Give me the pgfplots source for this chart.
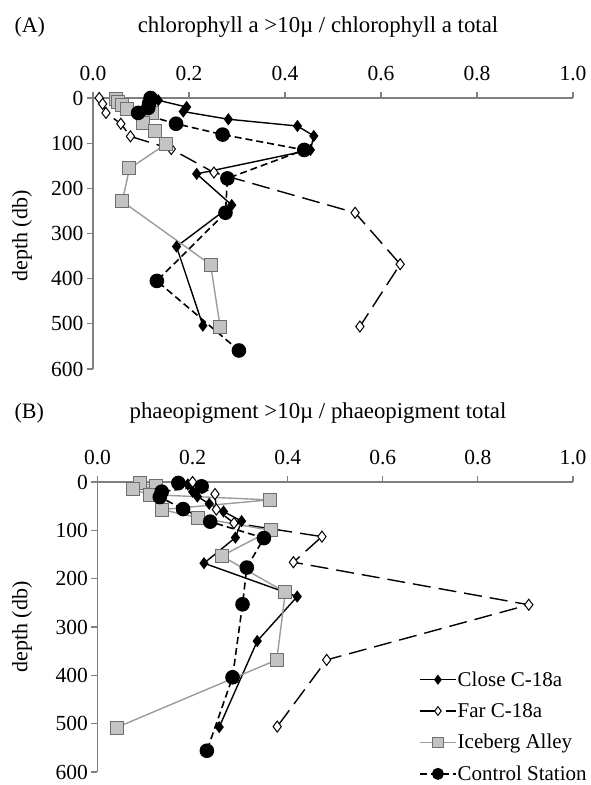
\documentclass[border=0pt]{standalone}
\usepackage{fontspec}
\setmainfont{Liberation Serif}
\usepackage{pgfplots}
\pgfplotsset{compat=1.18}
\definecolor{axgray}{RGB}{128,128,128}
\definecolor{icegray}{RGB}{155,155,155}
\definecolor{icefill}{RGB}{195,195,195}
\definecolor{iceedge}{RGB}{110,110,110}
\pgfplotsset{
  myaxis/.style={
    scale only axis,
    y dir=reverse,
    xmin=0, xmax=1, ymin=0, ymax=600,
    axis x line=top, axis y line=left,
    axis line style={-, draw=axgray, line width=1.1pt},
    tick style={draw=axgray, line width=1.1pt},
    tick align=outside,
    major tick length=6pt,
    xtick={0,0.2,0.4,0.6,0.8,1.0},
    ytick={0,100,200,300,400,500,600},
    tick label style={font=\fontsize{21.5}{24}\selectfont, /pgf/number format/assume math mode=true},
    xticklabel style={yshift=8pt, /pgf/number format/.cd, fixed, fixed zerofill, precision=1},
    clip=false,
  },
  closeS/.style={black, line width=1.4pt, mark=diamond*, mark size=5pt, mark options={solid, fill=black}},
  farS/.style={black, line width=1.4pt, dash pattern=on 18pt off 8pt, mark=diamond*, mark size=5.5pt, mark options={solid, fill=white, line width=1pt}},
  iceS/.style={icegray, line width=1.4pt, mark=square*, mark size=6.5pt, mark options={solid, fill=icefill, draw=iceedge, line width=1pt}},
  ctrlS/.style={black, line width=1.6pt, dash pattern=on 7pt off 4pt, mark=*, mark size=6.5pt, mark options={solid, fill=black}},
}
\begin{document}
\begin{tikzpicture}
\useasboundingbox (0pt,0pt) rectangle (590pt,-785pt);
% ---------- panel A
\node[anchor=west, font=\fontsize{22}{25}\selectfont] at (11pt,-27pt) {(A)};
\node[font=\fontsize{22.8}{25}\selectfont] at (318pt,-27pt) {chlorophyll a \textgreater10µ / chlorophyll a total};
\node[rotate=90, font=\fontsize{22}{25}\selectfont] at (22pt,-236pt) {depth (db)};
\begin{axis}[myaxis, at={(93pt,-98pt)}, anchor=north west, width=480pt, height=271pt]
\addplot[closeS] coordinates {(0.136,5) (0.195,20) (0.188,30) (0.282,47) (0.426,62) (0.46,84) (0.453,115) (0.216,168) (0.289,237) (0.174,329) (0.229,504)};
\addplot[farS] coordinates {(0.013,0) (0.02,13) (0.027,33) (0.058,57) (0.078,85) (0.163,113) (0.252,165) (0.546,254) (0.64,368) (0.556,506)};
\addplot[iceS] coordinates {(0.047,2) (0.053,8) (0.06,15) (0.07,25) (0.122,33) (0.105,55) (0.129,72) (0.152,102) (0.076,156) (0.061,229) (0.245,369) (0.265,507)};
\addplot[ctrlS] coordinates {(0.12,0) (0.117,12) (0.115,22) (0.094,33) (0.173,57) (0.27,81) (0.44,115) (0.28,178) (0.276,254) (0.133,405) (0.304,559)};
\end{axis}
% ---------- panel B
\node[anchor=west, font=\fontsize{22}{25}\selectfont] at (11pt,-413pt) {(B)};
\node[font=\fontsize{22.8}{25}\selectfont] at (318pt,-413pt) {phaeopigment \textgreater10µ / phaeopigment total};
\node[rotate=90, font=\fontsize{22}{25}\selectfont] at (22pt,-627pt) {depth (db)};
\begin{axis}[myaxis, at={(97.5pt,-482pt)}, anchor=north west, width=475.5pt, height=290pt,
  legend style={at={(axis description cs:0.676,0.35)}, anchor=north west, draw=none, fill=none,
    font=\fontsize{21}{24}\selectfont, row sep=13.5pt, inner sep=0pt,
    nodes={inner sep=1pt}},
  legend cell align=left,
  legend image code/.code={\draw[mark repeat=2, mark phase=2, every mark/.append style={scale=0.8}, #1] plot coordinates {(0pt,0pt) (18pt,0pt) (36pt,0pt)};}
]
\addplot[closeS] coordinates {(0.19,5) (0.2,20) (0.21,30) (0.235,45) (0.265,61) (0.303,81) (0.29,115) (0.224,168) (0.42,237) (0.336,329) (0.256,507)};
\addlegendentry{Close C-18a}
\addplot[farS] coordinates {(0.2,0) (0.22,12) (0.247,25) (0.25,57) (0.287,85) (0.472,113) (0.412,166) (0.907,254) (0.482,368) (0.378,506)};
\addlegendentry{Far C-18a}
\addplot[iceS] coordinates {(0.089,2) (0.124,8) (0.075,15) (0.11,26) (0.362,37) (0.135,57) (0.212,74) (0.365,100) (0.261,153) (0.395,228) (0.377,368) (0.04,508)};
\addlegendentry{Iceberg Alley}
\addplot[ctrlS] coordinates {(0.17,2) (0.219,9) (0.135,20) (0.131,31) (0.18,56) (0.237,82) (0.35,116) (0.314,177) (0.305,253) (0.284,404) (0.23,556)};
\addlegendentry{Control Station}
\end{axis}
\end{tikzpicture}
\end{document}
